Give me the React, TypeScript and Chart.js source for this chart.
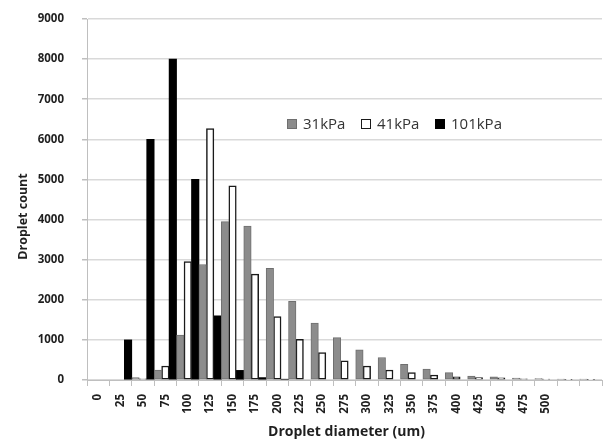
import React, { useEffect, useRef } from "react";
import { Chart, registerables } from "chart.js";

Chart.register(...registerables);

// Droplet diameter bins (um); the last two bins carry no label
const categories = [
  "0", "25", "50", "75", "100", "125", "150", "175", "200", "225", "250",
  "275", "300", "325", "350", "375", "400", "425", "450", "475", "500", "", "",
];

const series31kPa = [
  0, 0, 60, 250, 1120, 2880, 3950, 3840, 2785, 1960, 1420,
  1055, 750, 560, 390, 275, 185, 100, 80, 45, 35, 25, 25,
];

const series41kPa = [
  0, 0, 30, 350, 2950, 6270, 4840, 2640, 1580, 1015, 685,
  475, 350, 250, 185, 125, 80, 60, 55, 30, 25, 15, 15,
];

const series101kPa = [
  0, 1000, 6000, 8000, 5000, 1600, 240, 60, 20, 0, 0,
  0, 0, 0, 0, 0, 0, 0, 0, 0, 0, 0, 0,
];

const yTicks = [0, 1000, 2000, 3000, 4000, 5000, 6000, 7000, 8000, 9000];

const X_TITLE = "Droplet diameter (um)";
const Y_TITLE = "Droplet count";

const FONT = "'Open Sans', 'Liberation Sans', sans-serif";
const TEXT = "#1f1f1f";
const GRID = "#d9d9d9";
const AXIS = "#bfbfbf";

const GRAY_FILL = "#8c8c8c";
const GRAY_EDGE = "#6f6f6f";

// Empty bins are left out so no zero-height outline is drawn
const bars = (values: number[]) => values.map((v) => (v === 0 ? null : v));

// Legend and axis titles drawn directly on the canvas
const annotations = {
  id: "annotations",
  afterDraw(chart: any) {
    const { ctx, chartArea } = chart;
    const y = 124;
    const box = 10;
    const starts = [chartArea.left + 200, chartArea.left + 274, chartArea.left + 348];
    ctx.save();
    ctx.font = `15px ${FONT}`;
    ctx.textBaseline = "middle";
    ctx.textAlign = "left";
    chart.data.datasets.forEach((ds: any, i: number) => {
      const x = starts[i];
      ctx.fillStyle = ds.backgroundColor;
      ctx.fillRect(x, y - box / 2, box, box);
      ctx.strokeStyle = ds.borderColor;
      ctx.lineWidth = 1;
      ctx.strokeRect(x + 0.5, y - box / 2 + 0.5, box - 1, box - 1);
      ctx.fillStyle = "#333";
      ctx.fillText(ds.label, x + 16, y + 1);
    });

    ctx.fillStyle = TEXT;
    ctx.textAlign = "center";
    ctx.font = `bold 14px ${FONT}`;
    ctx.fillText(X_TITLE, (chartArea.left + chartArea.right) / 2 + 2, 432);

    ctx.translate(23, (chartArea.top + chartArea.bottom) / 2 + 17);
    ctx.rotate(-Math.PI / 2);
    ctx.font = `bold 12.5px ${FONT}`;
    ctx.fillText(Y_TITLE, 0, 0);
    ctx.restore();
  },
};

export default function App() {
  const canvasRef = useRef<HTMLCanvasElement | null>(null);

  useEffect(() => {
    if (!canvasRef.current) return;
    const chart = new Chart(canvasRef.current, {
      type: "bar",
      data: {
        labels: categories,
        datasets: [
          {
            label: "31kPa",
            data: bars(series31kPa),
            backgroundColor: GRAY_FILL,
            borderColor: GRAY_EDGE,
            borderWidth: 1,
            borderSkipped: false,
          },
          {
            label: "41kPa",
            data: bars(series41kPa),
            backgroundColor: "#ffffff",
            borderColor: "#1a1a1a",
            borderWidth: 1.5,
            borderSkipped: false,
          },
          {
            label: "101kPa",
            data: bars(series101kPa),
            backgroundColor: "#000000",
            borderColor: "#000000",
            borderWidth: 0,
          },
        ],
      },
      options: {
        responsive: false,
        animation: false,
        layout: { padding: { top: 19, right: 1, bottom: 0, left: 0 } },
        datasets: {
          bar: { categoryPercentage: 1, barPercentage: 1 },
        },
        plugins: {
          legend: { display: false },
          tooltip: { enabled: false },
        },
        scales: {
          x: {
            ticks: {
              autoSkip: false,
              minRotation: 90,
              maxRotation: 90,
              padding: 8,
              color: TEXT,
              font: { family: FONT, size: 11.5, weight: "bold" },
            },
            grid: {
              drawOnChartArea: false,
              drawTicks: true,
              tickLength: 6,
              color: AXIS,
            },
            border: { color: AXIS, width: 1 },
            afterFit: (scale: any) => {
              scale.height = 64;
              scale.paddingLeft = 0;
              scale.paddingRight = 0;
            },
          },
          y: {
            min: 0,
            max: 9000,
            afterBuildTicks: (scale: any) => {
              scale.ticks = yTicks.map((v) => ({ value: v }));
            },
            ticks: {
              padding: 18,
              color: TEXT,
              font: { family: FONT, size: 11.5, weight: "bold" },
              callback: (v: any) => String(v),
            },
            grid: {
              color: GRID,
              lineWidth: 1.5,
              tickLength: 5,
              tickColor: AXIS,
            },
            border: { color: AXIS, width: 1 },
            afterFit: (scale: any) => {
              scale.width = 87;
              scale.paddingTop = 0;
              scale.paddingBottom = 0;
            },
          },
        },
      },
      plugins: [annotations],
    });
    return () => chart.destroy();
  }, []);

  return (
    <div style={{ position: "absolute", left: 0, top: 0, width: 603, height: 444, background: "#fff" }}>
      <canvas ref={canvasRef} width={603} height={444} style={{ display: "block" }} />
    </div>
  );
}
